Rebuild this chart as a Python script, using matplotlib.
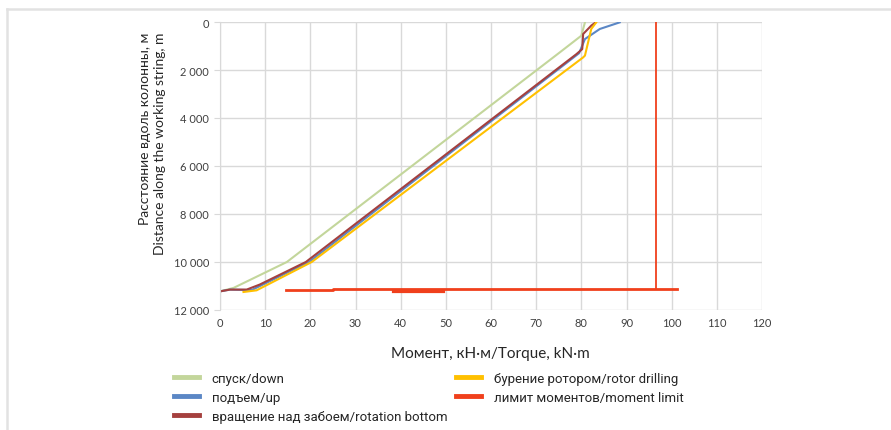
import matplotlib
matplotlib.use("Agg")
import matplotlib.pyplot as plt
from matplotlib.lines import Line2D
from matplotlib.ticker import FuncFormatter

# torque (kN*m) vs depth along the string (m)
down_torque = [80.8, 80.0, 75.2, 14.8, 3.0, 0.0]
down_depth = [15, 570, 1270, 10000, 11080, 11224]

up_torque = [88.5, 84.1, 80.8, 79.5, 19.7, 7.0, 2.2, 0.0]
up_depth = [15, 290, 710, 1300, 10000, 11170, 11150, 11224]

rot_torque = [83.0, 82.2, 80.4, 80.2, 78.9, 19.0, 8.8, 5.9, 2.2, 0.0]
rot_depth = [40, 150, 500, 1130, 1340, 10000, 10940, 11150, 11150, 11224]

drill_torque = [83.3, 82.2, 80.8, 80.4, 20.3, 8.1, 5.2]
drill_depth = [15, 290, 1400, 1475, 10000, 11180, 11250]

limit_v_torque = [96.5, 96.5]
limit_v_depth = [0, 11110]
limit_h_torque = [14.7, 25.1, 25.1, 101.2]
limit_h_depth = [11150, 11150, 11110, 11110]
limit_b_torque = [38.3, 49.3]
limit_b_depth = [11210, 11210]

x_ticks = list(range(0, 121, 10))
y_ticks = list(range(0, 12001, 2000))

c_down = "#c3d69b"
c_up = "#5b87c5"
c_rot = "#a5403e"
c_drill = "#ffc000"
c_lim = "#f0401c"

tick_font = ["Lato", "DejaVu Sans"]
leg_font = ["Roboto", "DejaVu Sans"]

fig = plt.figure(figsize=(8.91, 4.31), dpi=100)
W, H = 891, 431
ax = fig.add_axes([220 / W, 1 - 311 / H, 542 / W, 288 / H])

ax.plot(down_torque, down_depth, color=c_down, lw=1.5)
ax.plot(up_torque, up_depth, color=c_up, lw=1.5)
ax.plot(rot_torque, rot_depth, color=c_rot, lw=1.5)
ax.plot(drill_torque, drill_depth, color=c_drill, lw=1.5)
ax.plot(limit_v_torque, limit_v_depth, color=c_lim, lw=1.3)
ax.plot(limit_h_torque, limit_h_depth, color=c_lim, lw=2.0)
ax.plot(limit_b_torque, limit_b_depth, color=c_lim, lw=2.3)

ax.set_xlim(0, 120)
ax.set_ylim(12000, 0)
ax.set_xticks(x_ticks)
ax.set_yticks(y_ticks)
ax.yaxis.set_major_formatter(FuncFormatter(lambda v, p: f"{int(v):,}".replace(",", " ")))
ax.grid(True, color="#d9d9d9", lw=1)
ax.set_axisbelow(True)
for s in ["top", "right", "bottom"]:
    ax.spines[s].set_visible(False)
ax.spines["left"].set_color("#d9d9d9")
ax.tick_params(axis="x", length=0, pad=5, labelsize=8, labelcolor="#404040")
ax.tick_params(axis="y", length=4, color="#d9d9d9", pad=4, labelsize=8, labelcolor="#404040")
for lab in ax.get_xticklabels() + ax.get_yticklabels():
    lab.set_family(tick_font)

fig.text(490 / W, 1 - 354 / H, "Момент, кН·м/Torque, kN·m", ha="center", va="center",
         fontsize=11, family=tick_font, color="#262626")
fig.text(145 / W, 1 - 33 / H, "Расстояние вдоль колонны, м", rotation=90, ha="center",
         va="top", fontsize=10, family=tick_font, color="#262626")
fig.text(160 / W, 1 - 33 / H, "Distance along the working string, m", rotation=90,
         ha="center", va="top", fontsize=10, family=tick_font, color="#262626")

def handle(c):
    return Line2D([], [], color=c, lw=3.5)

leg_kw = dict(frameon=False, handlelength=1.9, handletextpad=0.95, labelspacing=0.45,
              prop={"family": leg_font, "size": 9.5}, borderaxespad=0, borderpad=0)
leg1 = fig.legend([handle(c_down), handle(c_up), handle(c_rot)],
                  ["спуск/down", "подъем/up", "вращение над забоем/rotation bottom"],
                  loc="upper left", bbox_to_anchor=(174 / W, 1 - 373 / H), **leg_kw)
leg2 = fig.legend([handle(c_drill), handle(c_lim)],
                  ["бурение ротором/rotor drilling", "лимит моментов/moment limit"],
                  loc="upper left", bbox_to_anchor=(456 / W, 1 - 373 / H), **leg_kw)
for lg in (leg1, leg2):
    for t in lg.get_texts():
        t.set_color("#262626")

# light frame around the figure (top and left edges visible)
fig.add_artist(Line2D([7 / W, 1], [1 - 10 / H, 1 - 10 / H], color="#e2e2e2", lw=1.8))
fig.add_artist(Line2D([7 / W, 7 / W], [0, 1 - 10 / H], color="#e2e2e2", lw=1.8))

fig.savefig("out.png", dpi=100)
